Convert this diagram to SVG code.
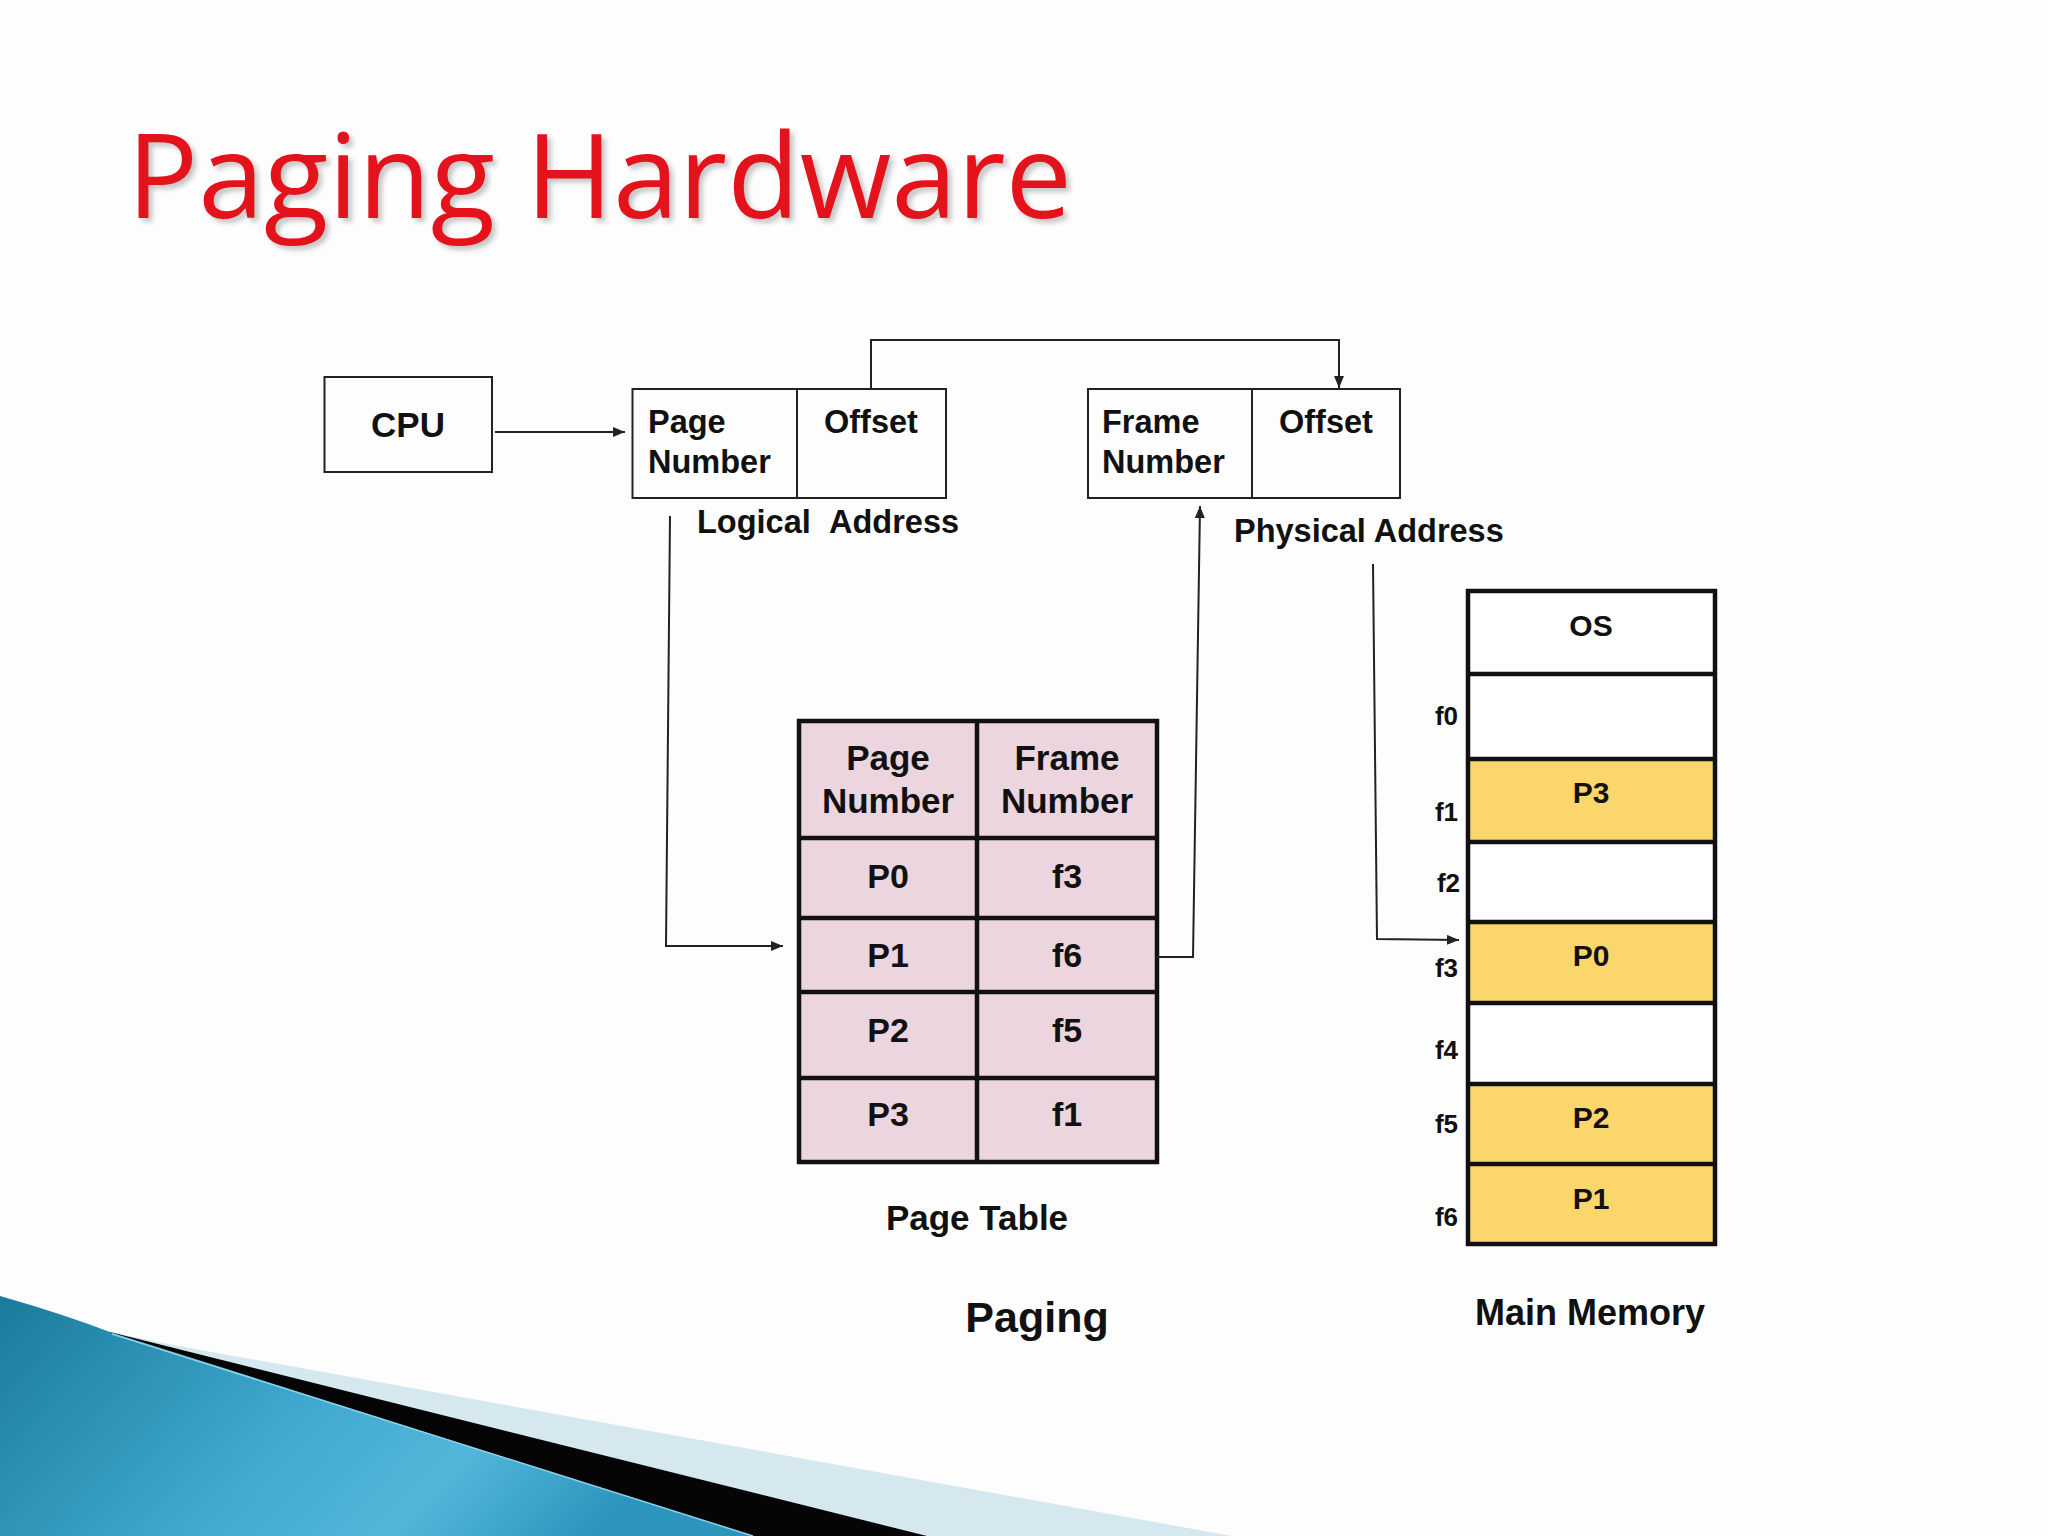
<svg xmlns="http://www.w3.org/2000/svg" width="2048" height="1536" viewBox="0 0 2048 1536">
<defs>
<style>
.t{font-family:"Liberation Sans",Arial,sans-serif;font-weight:bold;fill:#111}
.box{fill:none;stroke:#222;stroke-width:2}
.tbl{stroke:#111;stroke-width:4.5}
.mem{stroke:#111;stroke-width:4.5}
.c{fill:none;stroke:#222;stroke-width:2}
</style>
<marker id="ah" viewBox="0 0 12 10" refX="12" refY="5" markerWidth="12" markerHeight="10" markerUnits="userSpaceOnUse" orient="auto">
<path d="M0,0 L12,5 L0,10 Z" fill="#222"/>
</marker>
<linearGradient id="blue" x1="0" y1="0" x2="1" y2="0.3">
<stop offset="0" stop-color="#1a7b9c"/>
<stop offset="0.5" stop-color="#3fa9cf"/>
<stop offset="0.75" stop-color="#52b6da"/>
<stop offset="1" stop-color="#2b95bd"/>
</linearGradient>
<filter id="sh" x="-5%" y="-20%" width="110%" height="140%">
<feGaussianBlur stdDeviation="2.5"/>
</filter>
</defs>
<rect width="2048" height="1536" fill="#fdfdfd"/>

<g id="title">
<text x="131" y="222" font-family="Open Sans, Liberation Sans, sans-serif" font-size="118" textLength="945" lengthAdjust="spacingAndGlyphs" fill="#999" opacity="0.55" filter="url(#sh)">Paging Hardware</text>
<text x="127" y="218" font-family="Open Sans, Liberation Sans, sans-serif" font-size="118" textLength="945" lengthAdjust="spacingAndGlyphs" fill="#e3121b">Paging Hardware</text>
</g>

<g id="decoration">
<polygon points="110,1332 173,1345 1232,1536 0,1536" fill="#d5e7ef"/>
<polygon points="110,1332 927,1536 0,1536" fill="#050505"/>
<path d="M0,1296 Q60,1313 110,1332 L753,1536 L0,1536 Z" fill="url(#blue)"/>
<path d="M112,1334 L753,1536" stroke="#8fd0e6" stroke-width="1.5" fill="none"/>
</g>

<g id="cpu">
<rect class="box" x="324.5" y="377" width="167.5" height="95"/>
<text class="t" x="408" y="437" font-size="35" text-anchor="middle">CPU</text>
</g>

<g id="logical-address">
<rect class="box" x="632.5" y="389" width="313.5" height="109"/>
<line class="box" x1="797" y1="389" x2="797" y2="498"/>
<text class="t" x="648" y="433" font-size="32.5">Page</text>
<text class="t" x="648" y="473" font-size="32.5">Number</text>
<text class="t" x="824" y="433" font-size="32.5">Offset</text>
<text class="t" y="533" font-size="32.5"><tspan x="697">Logical</tspan><tspan x="829">Address</tspan></text>
</g>

<g id="physical-address">
<rect class="box" x="1088" y="389" width="312" height="109"/>
<line class="box" x1="1252" y1="389" x2="1252" y2="498"/>
<text class="t" x="1102" y="433" font-size="32.5">Frame</text>
<text class="t" x="1102" y="473" font-size="32.5">Number</text>
<text class="t" x="1279" y="433" font-size="32.5">Offset</text>
<text class="t" x="1234" y="542" font-size="32.5">Physical Address</text>
</g>

<g id="page-table">
<rect x="799" y="721" width="358" height="441" fill="#ecd5df"/>
<g class="tbl">
<line x1="799" y1="838" x2="1157" y2="838"/>
<line x1="799" y1="918" x2="1157" y2="918"/>
<line x1="799" y1="992" x2="1157" y2="992"/>
<line x1="799" y1="1078" x2="1157" y2="1078"/>
<line x1="977" y1="721" x2="977" y2="1162"/>
<rect x="799" y="721" width="358" height="441" fill="none"/>
</g>
<g class="t" font-size="35" text-anchor="middle">
<text x="888" y="770">Page</text>
<text x="888" y="813">Number</text>
<text x="1067" y="770">Frame</text>
<text x="1067" y="813">Number</text>
</g>
<g class="t" font-size="34" text-anchor="middle">
<text x="888" y="888">P0</text><text x="1067" y="888">f3</text>
<text x="888" y="967">P1</text><text x="1067" y="967">f6</text>
<text x="888" y="1042">P2</text><text x="1067" y="1042">f5</text>
<text x="888" y="1126">P3</text><text x="1067" y="1126">f1</text>
</g>
<text class="t" x="977" y="1230" font-size="35" text-anchor="middle">Page Table</text>
</g>

<g id="main-memory">
<rect x="1468" y="591" width="247" height="653" fill="#ffffff"/>
<rect x="1468" y="759" width="247" height="83" fill="#fad66c"/>
<rect x="1468" y="922" width="247" height="81" fill="#fad66c"/>
<rect x="1468" y="1084" width="247" height="160" fill="#fad66c"/>
<g class="mem">
<line x1="1468" y1="674" x2="1715" y2="674"/>
<line x1="1468" y1="759" x2="1715" y2="759"/>
<line x1="1468" y1="842" x2="1715" y2="842"/>
<line x1="1468" y1="922" x2="1715" y2="922"/>
<line x1="1468" y1="1003" x2="1715" y2="1003"/>
<line x1="1468" y1="1084" x2="1715" y2="1084"/>
<line x1="1468" y1="1164" x2="1715" y2="1164"/>
<rect x="1468" y="591" width="247" height="653" fill="none"/>
</g>
<g class="t" font-size="30" text-anchor="middle">
<text x="1591" y="636">OS</text>
<text x="1591" y="803">P3</text>
<text x="1591" y="966">P0</text>
<text x="1591" y="1128">P2</text>
<text x="1591" y="1209">P1</text>
</g>
<g class="t" font-size="26" text-anchor="end">
<text x="1458" y="725">f0</text>
<text x="1458" y="821">f1</text>
<text x="1460" y="892">f2</text>
<text x="1458" y="977">f3</text>
<text x="1458" y="1059">f4</text>
<text x="1458" y="1133">f5</text>
<text x="1458" y="1226">f6</text>
</g>
<text class="t" x="1590" y="1325" font-size="36" text-anchor="middle">Main Memory</text>
</g>

<g id="caption">
<text class="t" x="1037" y="1332" font-size="43" text-anchor="middle">Paging</text>
</g>

<g id="connectors">
<line class="c" x1="495" y1="432" x2="625" y2="432" marker-end="url(#ah)"/>
<polyline class="c" points="871,389 871,340 1339,340 1339,388" marker-end="url(#ah)"/>
<polyline class="c" points="670,516 666,946 783,946" marker-end="url(#ah)"/>
<polyline class="c" points="1157,957 1193,957 1200,506" marker-end="url(#ah)"/>
<polyline class="c" points="1373,564 1377,939 1459,940" marker-end="url(#ah)"/>
</g>
</svg>
